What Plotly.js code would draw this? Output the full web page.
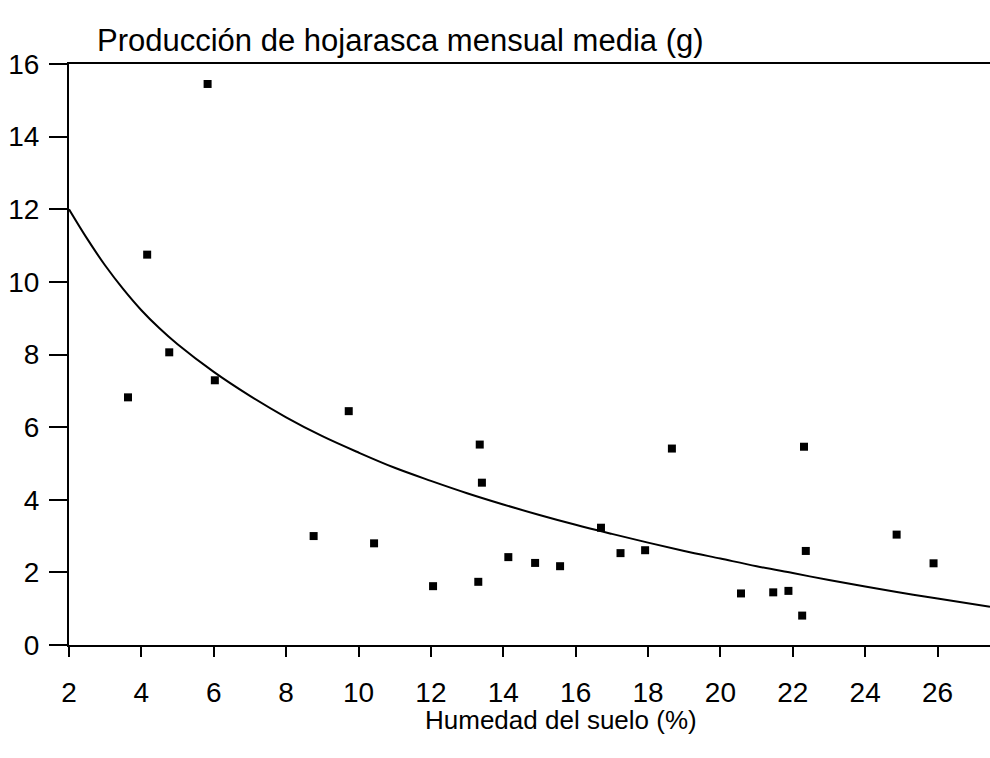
<!DOCTYPE html>
<html>
<head>
<meta charset="utf-8">
<script src="https://cdn.plot.ly/plotly-3.0.1.min.js"></script>
<style>
  html, body { margin: 0; padding: 0; background: #fff; }
  #chart { width: 990px; height: 758px; }
</style>
</head>
<body>
<div id="chart"></div>
<script>
// Observed points: soil moisture (%) vs mean monthly litter production (g)
const humedad = [3.63, 4.16, 4.77, 5.83, 6.03, 8.76, 9.73, 10.43, 12.06, 13.31, 13.35, 13.41,
                 14.14, 14.88, 15.57, 16.70, 17.24, 17.92, 18.66, 20.57, 21.46, 21.88,
                 22.26, 22.31, 22.36, 24.87, 25.89];
const hojarasca = [6.82, 10.75, 8.06, 15.45, 7.29, 3.00, 6.44, 2.80, 1.62, 1.74, 5.52, 4.47,
                   2.42, 2.26, 2.17, 3.23, 2.53, 2.61, 5.41, 1.42, 1.45, 1.49,
                   0.81, 5.46, 2.59, 3.04, 2.25];

// Fitted curve
const curvaX = [2, 2.5, 3, 3.5, 4, 4.5, 5, 6, 7, 8, 9, 10, 11, 12, 13, 14, 15, 16, 17, 18,
                19, 20, 21, 22, 23, 24, 25, 26, 27.45];
const curvaY = [12.0, 11.19, 10.45, 9.80, 9.22, 8.72, 8.28, 7.52, 6.86, 6.27, 5.75, 5.30, 4.88,
                4.52, 4.18, 3.87, 3.58, 3.31, 3.06, 2.82, 2.59, 2.38, 2.17, 1.98, 1.79, 1.61,
                1.44, 1.28, 1.05];

const xTicks = [2, 4, 6, 8, 10, 12, 14, 16, 18, 20, 22, 24, 26];
const yTicks = [0, 2, 4, 6, 8, 10, 12, 14, 16];

const titulo = "Producción de hojarasca mensual media (g)";
const tituloX = "Humedad del suelo (%)";

const FONT = "Arial, 'Liberation Sans', Helvetica, sans-serif";

const traces = [
  {
    x: curvaX, y: curvaY, type: "scatter", mode: "lines",
    line: { color: "#000", width: 2, shape: "spline", smoothing: 1 },
    hoverinfo: "skip", showlegend: false
  },
  {
    x: humedad, y: hojarasca, type: "scatter", mode: "markers",
    marker: { symbol: "square", size: 8, color: "#000" },
    showlegend: false
  }
];

const layout = {
  width: 990, height: 758,
  paper_bgcolor: "#fff", plot_bgcolor: "#fff",
  margin: { l: 69, r: 0, t: 64, b: 113, pad: 0 },
  font: { family: FONT, size: 26, color: "#000" },
  title: {
    text: titulo,
    font: { family: FONT, size: 31, color: "#000" },
    xref: "container", yref: "container",
    x: 97 / 990, xanchor: "left",
    y: 1 - 40 / 758, yanchor: "middle"
  },
  xaxis: {
    range: [2, 27.45],
    tickmode: "array", tickvals: xTicks, ticktext: xTicks.map(String),
    ticks: "outside", ticklen: 10, tickwidth: 2, tickcolor: "#000",
    ticklabelstandoff: 11,
    showline: true, linecolor: "#000", linewidth: 2, mirror: true,
    showgrid: false, zeroline: false,
    tickfont: { family: FONT, size: 28, color: "#000" }
  },
  yaxis: {
    range: [0, 16],
    tickmode: "array", tickvals: yTicks, ticktext: yTicks.map(String),
    ticks: "outside", ticklen: 18, tickwidth: 2, tickcolor: "#000",
    ticklabelstandoff: 4,
    showline: true, linecolor: "#000", linewidth: 2,
    showgrid: false, zeroline: false,
    tickfont: { family: FONT, size: 28, color: "#000" }
  },
  annotations: [
    {
      text: tituloX, xref: "paper", yref: "paper",
      x: (561 - 69) / (990 - 69), y: 0, xanchor: "center", yanchor: "middle",
      yshift: -75, showarrow: false,
      font: { family: FONT, size: 26, color: "#000" }
    }
  ]
};

Plotly.newPlot("chart", traces, layout, { displayModeBar: false, staticPlot: true });
</script>
</body>
</html>
